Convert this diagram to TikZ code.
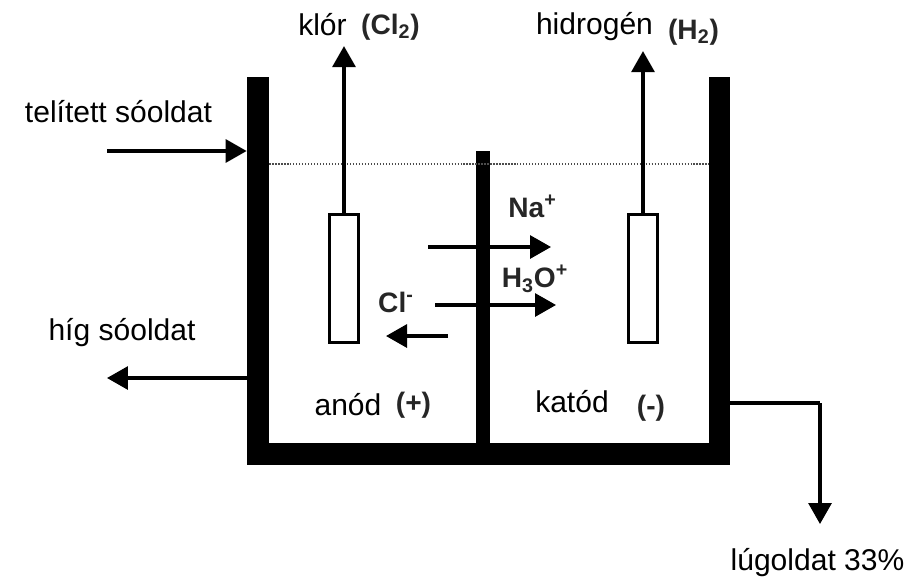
\documentclass[tikz,border=0pt]{standalone}
\usepackage{fontspec}
\setmainfont{Liberation Sans}
\usetikzlibrary{calc}
\usetikzlibrary{arrows.meta}

\begin{document}
\begin{tikzpicture}[x=0.02cm, y=-0.02cm,
	wallnode/.style={rectangle, fill=black, inner sep=0},
	electrode/.style={rectangle, draw=black, line width=1.6pt, fill=white, minimum width=0.58cm, minimum height=2.56cm, inner sep=0},
	flow/.style={line width=1.8pt, black, -{Triangle[length=0.42cm,width=0.46cm]}},
	plain/.style={font=\fontsize{17.1}{19}\selectfont, inner sep=0},
	ion/.style={font=\fontsize{16}{18}\selectfont\bfseries, text=black!85, inner sep=0}]
			\useasboundingbox (0,0) rectangle (912,582);
			\node (sidro) at (0,0) {};

			%tartaly
			\node[wallnode, minimum width=0.44cm, minimum height=7.76cm] (leftwall) at ($(sidro)+(258,271)$) {};
			\node[wallnode, minimum width=0.42cm, minimum height=7.76cm] (rightwall) at ($(sidro)+(719.5,271)$) {};
			\node[wallnode, minimum width=9.66cm, minimum height=0.44cm] (bottomwall) at ($(sidro)+(488.5,454)$) {};
			\node[wallnode, minimum width=0.28cm, minimum height=5.9cm] (midwall) at ($(sidro)+(483,298)$) {};

			%vizszint
			\coordinate (level1) at ($(leftwall.east |- sidro)+(0,164)$);
			\coordinate (level2) at ($(rightwall.west |- sidro)+(0,164)$);
			\draw[black!70, line width=0.7pt, densely dotted] (level1) -- (level2);

			%elektrodak
			\node[electrode] (anode) at ($(sidro)+(344,278.5)$) {};
			\node[electrode] (cathode) at ($(sidro)+(643,278.5)$) {};
			\coordinate (anodetop) at ($(anode.north)+(0,-167)$);
			\coordinate (cathodetop) at ($(cathode.north)+(0,-162)$);
			\draw[flow] (anode.north) -- (anodetop);
			\draw[flow] (cathode.north) -- (cathodetop);

			%be- es kifolyas
			\coordinate (inlet) at ($(sidro)+(107,151)$);
			\coordinate (inletend) at ($(leftwall.west |- inlet)$);
			\draw[flow] (inlet) -- (inletend);
			\coordinate (outlet) at ($(sidro)+(107,378)$);
			\coordinate (outletstart) at ($(leftwall.west |- outlet)$);
			\draw[flow] (outletstart) -- (outlet);
			\coordinate (lyestart) at ($(rightwall.east |- sidro)+(0,403)$);
			\coordinate (lyebend) at ($(sidro)+(820,403)$);
			\coordinate (lyeend) at ($(lyebend)+(0,121)$);
			\draw[line width=1.8pt, black] (lyestart) -- (lyebend);
			\draw[flow] (lyebend) -- (lyeend);

			%ionok
			\coordinate (na1) at ($(sidro)+(428,247)$);
			\coordinate (na2) at ($(na1)+(123,0)$);
			\coordinate (h1) at ($(sidro)+(435,305)$);
			\coordinate (h2) at ($(h1)+(121,0)$);
			\coordinate (cl1) at ($(sidro)+(448,336)$);
			\coordinate (cl2) at ($(cl1)+(-62,0)$);
			\draw[flow] (na1) -- (na2);
			\draw[flow] (h1) -- (h2);
			\draw[flow] (cl1) -- (cl2);

			\node[plain] (chlorine) at ($(sidro)+(322.5,25)$) {klór};
			\node[ion] (cl2label) at ($(sidro)+(390.5,27)$) {(Cl\textsubscript{2})};
			\node[plain] (hydrogen) at ($(sidro)+(594.5,27)$) {hidrogén};
			\node[ion] (h2label) at ($(sidro)+(693.5,32)$) {(H\textsubscript{2})};
			\node[plain] (brine) at ($(sidro)+(118.5,112)$) {telített sóoldat};
			\node[plain] (dilute) at ($(sidro)+(122,333)$) {híg sóoldat};
			\node[plain] (lye) at ($(sidro)+(817.5,563)$) {lúgoldat 33\%};
			\node[plain] (anodelabel) at ($(sidro)+(348,405)$) {anód};
			\node[ion] (pluslabel) at ($(sidro)+(413.5,405)$) {(+)};
			\node[plain] (cathodelabel) at ($(sidro)+(572,402)$) {katód};
			\node[ion] (minuslabel) at ($(sidro)+(651,408)$) {(-)};
			\node[ion] (nalabel) at ($(sidro)+(532.5,206)$) {Na\textsuperscript{+}};
			\node[ion] (h3olabel) at ($(sidro)+(535,279)$) {H\textsubscript{3}O\textsuperscript{+}};
			\node[ion] (cllabel) at ($(sidro)+(396,302)$) {Cl\textsuperscript{-}};
		\end{tikzpicture}
\end{document}
